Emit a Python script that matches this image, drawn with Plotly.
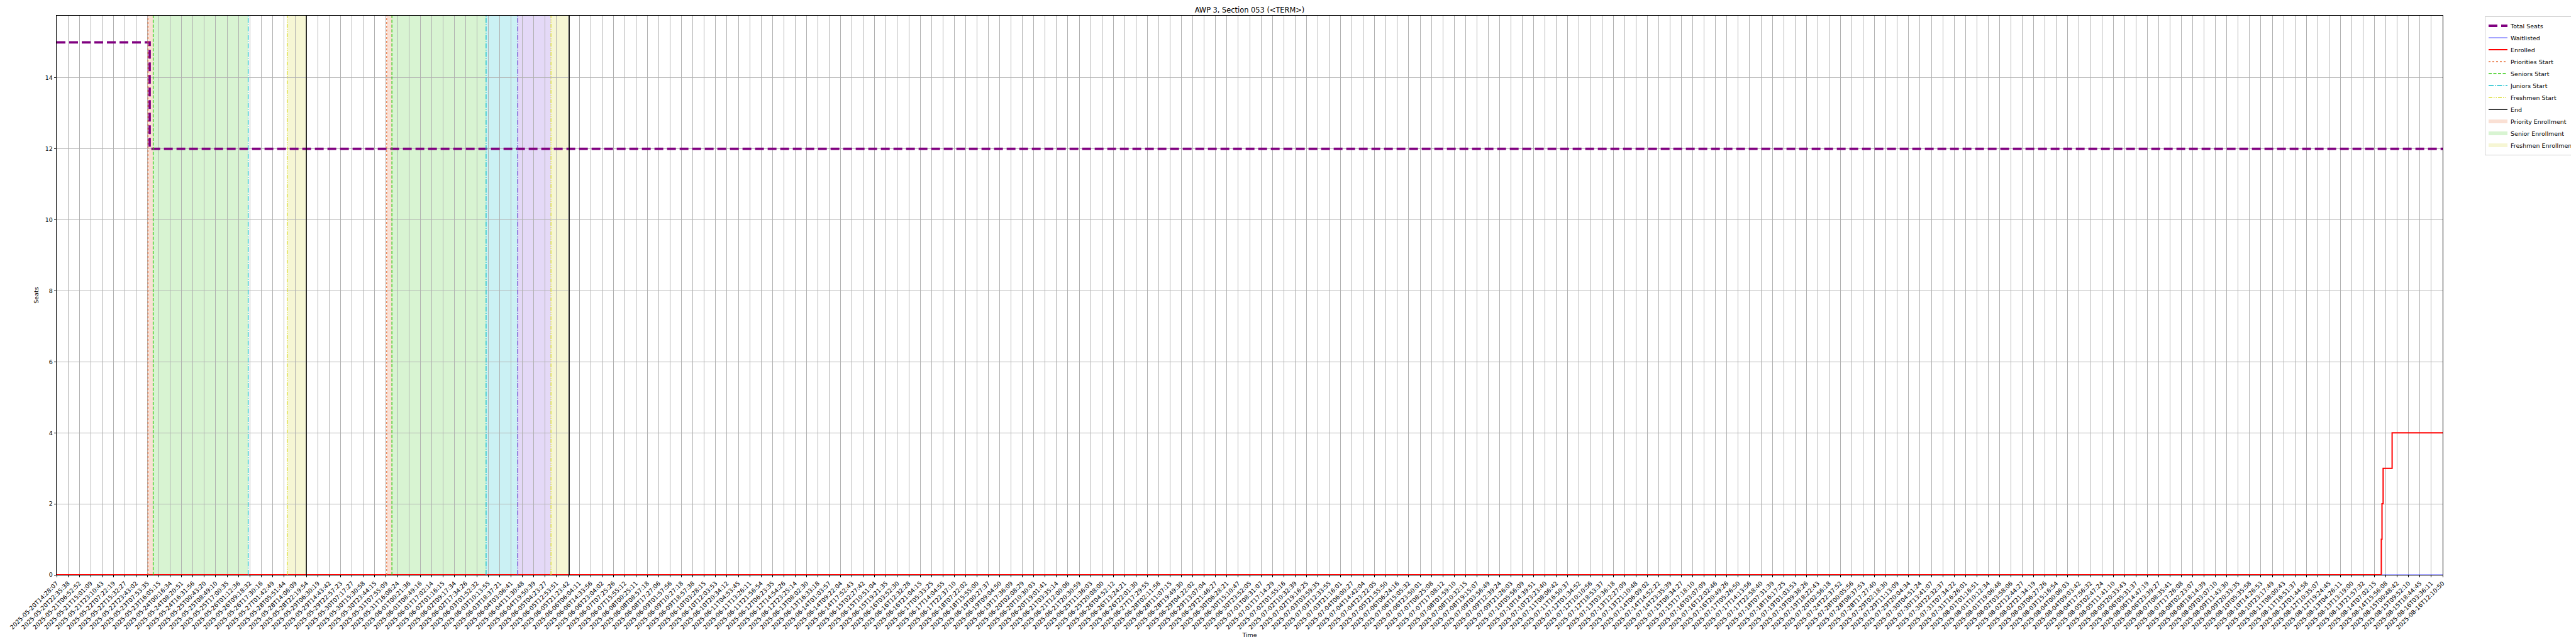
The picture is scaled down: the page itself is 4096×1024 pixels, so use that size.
import plotly.graph_objects as go

# ---------------- data ----------------
tick_labels = [
    "2025-05-20T14:28:07", "2025-05-20T22:35:38", "2025-05-21T06:52:52", "2025-05-21T15:01:09",
    "2025-05-21T23:10:43", "2025-05-22T07:22:19", "2025-05-22T15:32:27", "2025-05-22T23:43:02",
    "2025-05-23T07:53:35", "2025-05-23T16:05:15", "2025-05-24T00:16:34", "2025-05-24T08:20:51",
    "2025-05-24T16:31:56", "2025-05-25T00:43:20", "2025-05-25T08:49:10", "2025-05-25T17:00:35",
    "2025-05-26T01:12:36", "2025-05-26T09:18:32", "2025-05-26T17:30:16", "2025-05-27T01:42:49",
    "2025-05-28T05:51:44", "2025-05-28T14:06:09", "2025-05-28T22:19:54", "2025-05-29T06:30:19",
    "2025-05-29T14:43:42", "2025-05-29T22:57:23", "2025-05-30T07:17:27", "2025-05-30T15:30:58",
    "2025-05-30T23:44:15", "2025-05-31T07:55:09", "2025-05-31T16:08:24", "2025-06-01T00:21:36",
    "2025-06-01T08:49:16", "2025-06-01T17:02:14", "2025-06-02T01:16:15", "2025-06-02T09:17:34",
    "2025-06-02T17:34:26", "2025-06-03T01:52:32", "2025-06-03T10:13:55", "2025-06-03T18:37:21",
    "2025-06-04T03:06:41", "2025-06-04T11:30:48", "2025-06-04T19:50:39", "2025-06-05T04:23:27",
    "2025-06-05T12:53:51", "2025-06-05T21:23:42", "2025-06-06T06:04:11", "2025-06-06T14:33:56",
    "2025-06-06T23:04:02", "2025-06-07T07:25:26", "2025-06-07T15:55:12", "2025-06-08T00:25:11",
    "2025-06-08T08:57:18", "2025-06-08T17:27:06", "2025-06-09T01:57:56", "2025-06-09T10:27:18",
    "2025-06-09T18:57:38", "2025-06-10T03:28:15", "2025-06-10T12:03:53", "2025-06-10T20:34:12",
    "2025-06-11T04:53:45", "2025-06-11T13:26:11", "2025-06-11T21:56:54", "2025-06-12T06:23:35",
    "2025-06-12T14:54:26", "2025-06-12T23:25:14", "2025-06-13T08:02:30", "2025-06-13T16:33:18",
    "2025-06-14T01:03:57", "2025-06-14T09:22:04", "2025-06-14T17:52:43", "2025-06-15T02:27:42",
    "2025-06-15T10:51:04", "2025-06-15T19:21:35", "2025-06-16T03:52:30", "2025-06-16T12:32:28",
    "2025-06-16T21:04:15", "2025-06-17T05:33:25", "2025-06-17T14:04:55", "2025-06-17T22:37:10",
    "2025-06-18T07:22:02", "2025-06-18T15:55:00", "2025-06-19T00:27:37", "2025-06-19T09:04:50",
    "2025-06-19T17:36:09", "2025-06-20T02:08:29", "2025-06-20T10:30:03", "2025-06-20T19:01:41",
    "2025-06-21T03:35:14", "2025-06-21T12:00:06", "2025-06-21T20:30:59", "2025-06-25T11:36:03",
    "2025-06-25T20:08:00", "2025-06-26T04:52:12", "2025-06-26T13:24:21", "2025-06-26T22:01:30",
    "2025-06-27T17:29:55", "2025-06-28T02:11:58", "2025-06-28T11:07:15", "2025-06-28T19:49:30",
    "2025-06-29T04:22:02", "2025-06-29T13:07:04", "2025-06-29T21:46:27", "2025-06-30T06:28:21",
    "2025-06-30T15:10:47", "2025-06-30T23:52:05", "2025-07-01T08:31:07", "2025-07-01T17:14:29",
    "2025-07-02T01:55:16", "2025-07-02T10:32:39", "2025-07-02T19:16:25", "2025-07-03T03:59:35",
    "2025-07-03T12:33:55", "2025-07-03T21:16:01", "2025-07-04T06:00:27", "2025-07-04T14:42:04",
    "2025-07-04T23:22:05", "2025-07-05T21:55:50", "2025-07-06T06:24:16", "2025-07-06T15:05:32",
    "2025-07-06T23:50:01", "2025-07-07T08:25:08", "2025-07-07T17:08:12", "2025-07-08T01:59:10",
    "2025-07-08T10:32:15", "2025-07-08T19:15:07", "2025-07-09T03:56:49", "2025-07-09T12:39:24",
    "2025-07-09T21:26:03", "2025-07-10T05:56:09", "2025-07-10T14:39:51", "2025-07-10T23:23:40",
    "2025-07-11T08:06:42", "2025-07-11T16:50:37", "2025-07-12T01:34:52", "2025-07-12T10:10:56",
    "2025-07-12T18:53:37", "2025-07-13T03:36:18", "2025-07-13T12:27:09", "2025-07-13T21:10:48",
    "2025-07-14T06:09:02", "2025-07-14T14:52:22", "2025-07-14T23:35:39", "2025-07-15T08:34:27",
    "2025-07-15T17:18:10", "2025-07-16T03:07:09", "2025-07-16T12:02:46", "2025-07-16T20:49:26",
    "2025-07-17T05:26:50", "2025-07-17T14:13:56", "2025-07-17T22:58:40", "2025-07-18T07:31:39",
    "2025-07-18T16:17:25", "2025-07-19T01:03:53", "2025-07-19T09:38:26", "2025-07-19T18:22:43",
    "2025-07-20T02:56:18", "2025-07-24T22:37:52", "2025-07-28T00:05:56", "2025-07-28T08:37:53",
    "2025-07-28T17:27:40", "2025-07-29T02:18:30", "2025-07-29T11:13:09", "2025-07-29T20:04:34",
    "2025-07-30T04:51:24", "2025-07-30T13:41:07", "2025-07-30T22:32:37", "2025-07-31T07:34:22",
    "2025-07-31T16:26:01", "2025-08-01T01:16:51", "2025-08-01T10:12:34", "2025-08-01T19:06:48",
    "2025-08-02T03:58:06", "2025-08-02T12:44:27", "2025-08-02T21:34:19", "2025-08-03T06:27:26",
    "2025-08-03T15:16:54", "2025-08-04T00:06:03", "2025-08-04T09:03:42", "2025-08-04T17:56:32",
    "2025-08-05T02:47:24", "2025-08-05T11:41:10", "2025-08-05T20:33:43", "2025-08-06T05:31:37",
    "2025-08-06T14:47:19", "2025-08-06T23:39:27", "2025-08-07T08:35:41", "2025-08-07T17:26:08",
    "2025-08-08T02:23:07", "2025-08-08T18:14:39", "2025-08-09T03:07:10", "2025-08-09T11:43:30",
    "2025-08-09T20:33:35", "2025-08-10T05:35:58", "2025-08-10T14:26:53", "2025-08-10T23:17:49",
    "2025-08-11T08:00:43", "2025-08-11T16:51:37", "2025-08-12T01:44:58", "2025-08-12T10:35:07",
    "2025-08-12T19:24:45", "2025-08-13T04:26:11", "2025-08-13T13:19:00", "2025-08-13T21:57:32",
    "2025-08-14T07:02:15", "2025-08-14T15:56:08", "2025-08-15T00:48:42", "2025-08-15T09:52:10",
    "2025-08-15T18:44:45", "2025-08-16T03:36:11", "2025-08-16T12:10:50",
]
tick_pos = list(range(len(tick_labels)))  # sample-index axis, one labelled tick per step

# step series, x in tick-index units
seats_x = [0, 8.19, 210]
seats_y = [15, 12, 12]
waitlist_x = [0, 210]
waitlist_y = [0, 0]
enrolled_x = [0, 204.6, 204.66, 204.76, 205.55, 210]
enrolled_y = [0, 1, 2, 3, 4, 4]

# registration phase markers (tick-index units)
priorities_start = [8.04, 29.05]
seniors_start = [8.50, 29.51]
juniors_start = [16.86, 37.80]
sophomores_start = [40.59]
freshmen_start = [20.30, 43.51]
end_marks = [21.98, 45.12]

y_ticks = [0, 2, 4, 6, 8, 10, 12, 14]
y_top = 15.75

# ---------------- figure ----------------
FONT = "DejaVu Sans"
# the page body has an 8px margin: size the figure so it ends at the window edge
OFF = 8
W, H = 4096 - OFF, 1024 - OFF
fig = go.Figure()

def vline_xy(xs):
    X, Y = [], []
    for v in xs:
        X += [v, v, None]
        Y += [0, y_top, None]
    return X, Y

fig.add_trace(go.Scatter(x=seats_x, y=seats_y, mode="lines", name="Total Seats",
                         line=dict(color="#800080", width=3.8, dash="14px,6px", shape="hv")))
fig.add_trace(go.Scatter(x=waitlist_x, y=waitlist_y, mode="lines", name="Waitlisted",
                         line=dict(color="rgba(0,0,255,0.7)", width=1.1, shape="hv")))
fig.add_trace(go.Scatter(x=enrolled_x, y=enrolled_y, mode="lines", name="Enrolled",
                         line=dict(color="#ff0000", width=2.0, shape="hv")))

vl_specs = [
    ("Priorities Start", priorities_start, "#e8703a", "dot", True),
    ("Seniors Start", seniors_start, "#33cc11", "5px,2.5px", True),
    ("Juniors Start", juniors_start, "#11bfcc", "8px,2px,1.5px,2px", True),
    ("Freshmen Start", freshmen_start, "#dddd33", "6px,2px,1.5px,2px,1.5px,2px", True),
    ("End", end_marks, "#000000", "solid", True),
    ("Sophomores Start", sophomores_start, "#7030d0", "8px,2px,1.5px,2px", False),
]
for name, xs, col, dash, show in vl_specs:
    X, Y = vline_xy(xs)
    fig.add_trace(go.Scatter(x=X, y=Y, mode="lines", name=name, showlegend=show,
                             line=dict(color=col, width=1.3 if name != "End" else 1.4, dash=dash)))

span_specs = [
    ("Priority Enrollment", list(zip(priorities_start, seniors_start)), "rgba(232,112,58,0.22)", True),
    ("Senior Enrollment", list(zip(seniors_start, juniors_start)), "rgba(60,200,30,0.2)", True),
    ("Freshmen Enrollment", list(zip(freshmen_start, end_marks)), "rgba(210,210,40,0.2)", True),
    ("Junior Enrollment", [(juniors_start[1], sophomores_start[0])], "rgba(20,190,205,0.22)", False),
    ("Sophomore Enrollment", [(sophomores_start[0], freshmen_start[1])], "rgba(130,80,220,0.22)", False),
]
for name, spans, col, show in span_specs:
    for a, b in spans:
        fig.add_shape(type="rect", xref="x", yref="paper", x0=a, x1=b, y0=0, y1=1,
                      fillcolor=col, line=dict(width=0), layer="below")
    if show:
        fig.add_trace(go.Scatter(x=[None], y=[None], mode="none", name=name, fill="toself",
                                 fillcolor=col, showlegend=True))

fig.update_layout(
    width=W, height=H,
    margin=dict(l=90 - OFF, r=212, t=25 - OFF, b=110, autoexpand=False),
    paper_bgcolor="white", plot_bgcolor="white",
    font=dict(family=FONT, size=9.5, color="black"),
    title=dict(text="AWP 3, Section 053 (&lt;TERM&gt;)", x=0.5, xref="paper", xanchor="center",
               y=1 - (16 - OFF) / H, yref="container", yanchor="middle",
               font=dict(family=FONT, size=11.4, color="black")),
    legend=dict(x=(3951 - OFF) / W, xref="container", xanchor="left",
                y=1 - (25.5 - OFF) / H, yref="container", yanchor="top",
                bgcolor="rgba(255,255,255,0.8)", bordercolor="#cccccc", borderwidth=1,
                font=dict(family=FONT, size=9.5), tracegroupgap=0, itemwidth=30),
    showlegend=True,
)
fig.update_xaxes(
    range=[0, 210], tickmode="array", tickvals=tick_pos, ticktext=tick_labels,
    tickangle=-45, tickfont=dict(family=FONT, size=9.5), automargin=False,
    showgrid=True, gridcolor="#b0b0b0", gridwidth=0.75,
    ticks="outside", ticklen=3.3, tickwidth=0.8, tickcolor="black",
    showline=True, linecolor="black", linewidth=1, mirror=True, zeroline=False,
    title=dict(text="Time", font=dict(family=FONT, size=9.5), standoff=4),
)
fig.update_yaxes(
    range=[0, y_top], tickmode="array", tickvals=y_ticks, ticktext=[str(v) for v in y_ticks],
    tickfont=dict(family=FONT, size=9.5), automargin=False,
    showgrid=True, gridcolor="#b0b0b0", gridwidth=0.75,
    ticks="outside", ticklen=3.3, tickwidth=0.8, tickcolor="black",
    showline=True, linecolor="black", linewidth=1, mirror=True, zeroline=False,
    title=dict(text="Seats", font=dict(family=FONT, size=9.5), standoff=8),
)

fig.write_html("out.html")
